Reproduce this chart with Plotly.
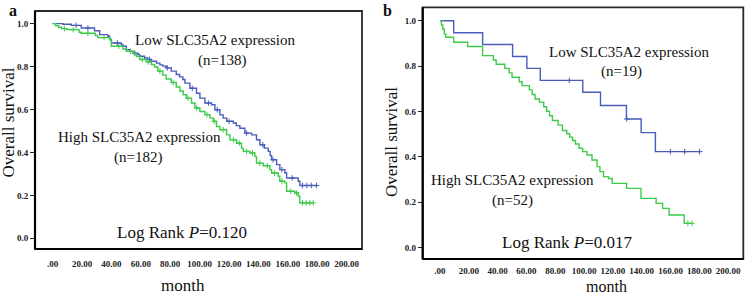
import plotly.graph_objects as go

# ---------------- data ----------------
x_tick_vals = [0, 20, 40, 60, 80, 100, 120, 140, 160, 180, 200]
x_tick_text = [".00", "20.00", "40.00", "60.00", "80.00", "100.00", "120.00",
               "140.00", "160.00", "180.00", "200.00"]
y_tick_vals = [0.0, 0.2, 0.4, 0.6, 0.8, 1.0]
y_tick_text = ["0.0", "0.2", "0.4", "0.6", "0.8", "1.0"]

# Panel a - Low SLC35A2 (n=138)
a_low_t = [0, 7, 12.7, 19.5, 28.5, 32, 37.6, 38.8, 40, 46.7, 47.8, 50.1, 52.4, 54.8,
           58, 59.2, 62.6, 64.8, 67.1, 70.7, 73, 75, 77.3, 80.7, 84.1, 86.4, 88.6,
           90, 93.4, 97.9, 100.2, 103.6, 108.1, 110.4, 113.8, 116, 118.4, 122.9, 125,
           127.4, 130.8, 135.4, 138.7, 141, 144, 146.7, 148, 149, 152.4, 154.6, 158,
           159.2, 167.1, 168.2]
a_low_s = [1.0, 0.997, 0.992, 0.980, 0.967, 0.949, 0.941, 0.926, 0.910, 0.903, 0.895,
           0.879, 0.871, 0.862, 0.856, 0.848, 0.840, 0.833, 0.825, 0.816, 0.808, 0.802,
           0.794, 0.779, 0.763, 0.752, 0.740, 0.723, 0.699, 0.676, 0.653, 0.630, 0.622,
           0.599, 0.575, 0.560, 0.545, 0.537, 0.525, 0.513, 0.490, 0.482, 0.459, 0.436,
           0.420, 0.405, 0.385, 0.366, 0.343, 0.320, 0.305, 0.281, 0.266, 0.246]
a_low_end = 179.6
a_low_cens = [16, 24, 44, 56, 66, 78, 95, 106, 112, 120, 132, 143, 150, 156, 163,
              170, 173, 176, 179.6]

# Panel a - High SLC35A2 (n=182)
a_high_t = [0, 2, 4, 6, 9.5, 18, 19.5, 29, 30.8, 38.8, 40, 47.8, 50.1, 55, 57.1, 59.2,
            63.7, 67.1, 69.4, 71.6, 75, 77.3, 80.7, 84.1, 86.6, 88.9, 91.1, 94.5, 96.8,
            100.2, 103.6, 107, 109.3, 111.5, 113.8, 118.4, 120.6, 125.2, 128.5, 129.7,
            134.2, 137.6, 138.7, 143.3, 147.8, 149, 153.5, 154.6, 158, 159.2, 164.8,
            167.1, 168.2]
a_high_s = [1.0, 0.990, 0.983, 0.977, 0.972, 0.960, 0.955, 0.945, 0.935, 0.926, 0.895,
            0.882, 0.871, 0.860, 0.847, 0.833, 0.822, 0.810, 0.798, 0.779, 0.760, 0.742,
            0.726, 0.705, 0.686, 0.669, 0.653, 0.630, 0.607, 0.591, 0.576, 0.560, 0.545,
            0.521, 0.506, 0.482, 0.459, 0.443, 0.420, 0.405, 0.397, 0.381, 0.350, 0.338,
            0.320, 0.304, 0.289, 0.266, 0.258, 0.219, 0.211, 0.196, 0.165]
a_high_end = 177.3
a_high_cens = [8, 14, 24, 35, 45, 53, 61, 65, 73, 82, 92, 98, 105, 110, 116, 123, 127,
               132, 136, 141, 146, 151, 156, 162, 166, 170, 172.5, 175, 177.3]

# Panel b - Low SLC35A2 (n=19)
b_low_t = [0, 9.5, 29.6, 50.4, 60.3, 69.6, 99.1, 111.4, 129.4, 139.6, 149.5]
b_low_s = [1.0, 0.947, 0.895, 0.842, 0.790, 0.737, 0.685, 0.626, 0.567, 0.507, 0.423]
b_low_end = 180.2
b_low_cens = [89.7, 129.6, 159.9, 169.8, 180.2]

# Panel b - High SLC35A2 (n=52)
b_high_t = [0, 1, 2, 3, 4, 9.5, 19.2, 29.6, 37, 39, 45, 48, 50, 55, 57, 62, 64, 66,
            69, 72, 74, 76, 78, 82, 85, 88, 90, 92, 94, 96.5, 99, 102, 105.5, 109, 111,
            113.5, 117, 119.5, 129.5, 139.5, 150, 154.5, 159, 169.5]
b_high_s = [1.0, 0.981, 0.962, 0.942, 0.927, 0.905, 0.886, 0.846, 0.827, 0.808, 0.790,
            0.770, 0.751, 0.731, 0.714, 0.695, 0.675, 0.655, 0.641, 0.621, 0.601, 0.581,
            0.560, 0.540, 0.516, 0.502, 0.487, 0.472, 0.457, 0.438, 0.423, 0.408, 0.386,
            0.357, 0.335, 0.313, 0.305, 0.283, 0.261, 0.217, 0.195, 0.173, 0.144, 0.107]
b_high_end = 174.9
b_high_cens = [172, 174.9]

BLUE = "#4a5cbc"
GREEN = "#3ccc48"
SERIF = "Liberation Serif, Times New Roman, serif"

fig = go.Figure()


def step_value(times, surv, t):
    v = surv[0]
    for ti, si in zip(times, surv):
        if ti <= t:
            v = si
    return v


def add_curve(times, surv, end, cens, color, xa, ya):
    xs = list(times) + [end]
    ys = list(surv) + [surv[-1]]
    fig.add_trace(go.Scatter(x=xs, y=ys, mode="lines", xaxis=xa, yaxis=ya,
                             line=dict(color=color, width=1.4, shape="hv"),
                             hoverinfo="skip", showlegend=False))
    cy = [step_value(times, surv, t) for t in cens]
    fig.add_trace(go.Scatter(x=cens, y=cy, mode="markers", xaxis=xa, yaxis=ya,
                             marker=dict(symbol="cross-thin", size=4,
                                         line=dict(color=color, width=1)),
                             hoverinfo="skip", showlegend=False))


add_curve(a_low_t, a_low_s, a_low_end, a_low_cens, BLUE, "x", "y")
add_curve(a_high_t, a_high_s, a_high_end, a_high_cens, GREEN, "x", "y")
add_curve(b_low_t, b_low_s, b_low_end, b_low_cens, BLUE, "x2", "y2")
add_curve(b_high_t, b_high_s, b_high_end, b_high_cens, GREEN, "x2", "y2")

W, H = 745, 296


def px(x):
    return x / W


def py(y):
    return 1 - y / H


tickfont = dict(family=SERIF, size=9, color="#222", weight="bold")
xcommon = dict(range=[-12, 210.5], tickvals=x_tick_vals, ticktext=x_tick_text,
               showgrid=False, zeroline=False, showline=False, ticks="outside",
               tickcolor="rgba(0,0,0,0)", tickfont=tickfont)
ycommon = dict(range=[-0.05, 1.059], tickvals=y_tick_vals, ticktext=y_tick_text,
               showgrid=False, zeroline=False, showline=False, ticks="outside",
               ticklen=4, tickwidth=1, tickcolor="#222", tickfont=tickfont)

fig.update_layout(
    width=W, height=H, margin=dict(l=0, r=0, t=0, b=0),
    paper_bgcolor="white", plot_bgcolor="white",
    xaxis=dict(domain=[px(35), px(362)], anchor="y", ticklen=6, **xcommon),
    yaxis=dict(domain=[py(249), py(11)], anchor="x", **ycommon),
    xaxis2=dict(domain=[px(422.7), px(743.3)], anchor="y2", ticklen=3, **xcommon),
    yaxis2=dict(domain=[py(259), py(7.3)], anchor="x2", **ycommon),
)

# frames
for xr, yr in [("x", "y"), ("x2", "y2")]:
    fig.add_shape(type="rect", xref=f"{xr} domain", yref=f"{yr} domain",
                  x0=0, x1=1, y0=0, y1=1, line=dict(color="#2a2a2a", width=1.8),
                  layer="above")
    fig.add_shape(type="line", xref=f"{xr} domain", yref=f"{yr} domain",
                  x0=0, x1=0, y0=0, y1=1, line=dict(color="black", width=2.2),
                  layer="above")
    fig.add_shape(type="line", xref=f"{xr} domain", yref=f"{yr} domain",
                  x0=0, x1=1, y0=0, y1=0, line=dict(color="black", width=2.2),
                  layer="above")


def ann(text, x, y, size, angle=0, bold=False):
    fig.add_annotation(text=text, x=px(x), y=py(y), xref="paper", yref="paper",
                       xanchor="center", yanchor="middle", showarrow=False,
                       textangle=angle,
                       font=dict(family=SERIF, size=size, color="#111",
                                 weight="bold" if bold else "normal"))


# panel a
ann("a", 12.5, 10.5, 16, bold=True)
ann("Low SLC35A2 expression", 215, 40, 15)
ann("(n=138)", 221.5, 60, 15)
ann("High SLC35A2 expression", 139, 137, 15)
ann("(n=182)", 138, 157, 15)
ann("Log Rank <i>P</i>=0.120", 181.7, 232, 17)
ann("Overall survival", 8, 122.5, 17, angle=-90)
ann("month", 182.5, 285, 17)

# panel b
ann("b", 388, 10.5, 16, bold=True)
ann("Low SLC35A2 expression", 629, 52, 15)
ann("(n=19)", 621.7, 72, 15)
ann("High SLC35A2 expression", 512.5, 180, 15)
ann("(n=52)", 512.5, 200, 15)
ann("Log Rank <i>P</i>=0.017", 567.5, 242, 17)
ann("Overall survival", 391.5, 142.5, 17, angle=-90)
ann("month", 606, 286, 16)

fig.write_html("out.html")
